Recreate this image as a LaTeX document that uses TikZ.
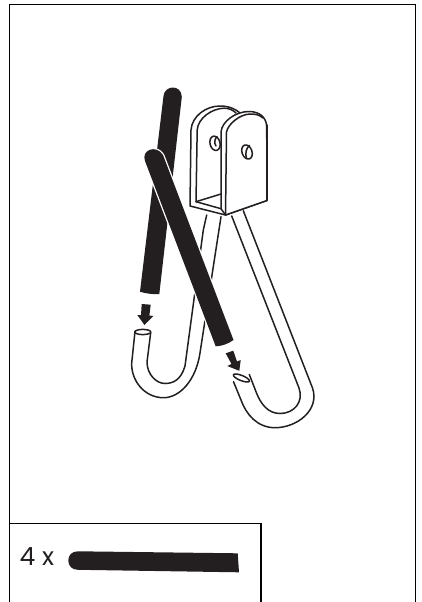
\documentclass[tikz,border=0pt]{standalone}
\usepackage{fontspec}
\setmainfont{Poppins}
\definecolor{ink}{HTML}{231F20}
\tikzset{
  frameline/.style={draw=black,line width=1.5pt},
  wire/.style={draw=ink,line width=1.5pt,line join=round,line cap=round},
  rod/.style={fill=ink,draw=none},
  plate/.style={wire,fill=white}
}
\begin{document}
\begin{tikzpicture}[x=1pt,y=-1pt]
\useasboundingbox (0,0) rectangle (421,602);
% frames
\draw[frameline] (9.5,602) -- (9.5,4.5) -- (415.5,4.5) -- (415.5,602);
\draw[frameline] (9.5,523.5) -- (261,523.5) -- (261,602);
% back rod
\path[rod] (163.5,96) .. controls (164.5,85) and (181.5,84) .. (181.8,97)
  -- (159.3,294) .. controls (152,294.5) and (146,293.5) .. (140,291.7) -- cycle;
% left hook
\draw[wire] (206.7,215) -- (203.3,230) -- (185,366)
  .. controls (181,380) and (173,383.5) .. (165,383.5)
  .. controls (156,383.5) and (147,374) .. (147,362)
  -- (150.7,332.5);
\draw[wire] (221,216.7) -- (200,353)
  .. controls (196,380) and (180,397.7) .. (163.5,397.7)
  .. controls (144,397.7) and (131,380) .. (131.7,363)
  -- (135,331.5);
\draw[wire,fill=white] (142.8,332) ellipse[x radius=8,y radius=2.6];
% right hook
\draw[wire] (231.7,216) -- (299,388)
  .. controls (304,402) and (294,413.5) .. (280,413.5)
  .. controls (268,413.5) and (261,404) .. (256.7,393.5)
  -- (249.3,374.5);
\draw[wire] (243.3,210.7) -- (312.5,388)
  .. controls (320,410) and (297,427.7) .. (275,427.7)
  .. controls (257,427.7) and (246,414) .. (241,400)
  -- (233.5,381.7);
\draw[wire,fill=white,rotate around={-22:(241.4,378)}] (241.4,378) ellipse[x radius=8.6,y radius=2.6];
% bracket
\draw[plate] (190,206) -- (191,130)
  .. controls (192,116) and (206,106) .. (220,106)
  .. controls (228,106) and (234,108) .. (240,113)
  -- (267,125) -- (267,200.5) -- (225.5,215) -- cycle;
\draw[wire] (196,201.7) -- (197.2,130)
  .. controls (198,118) and (212,108.5) .. (224,108.2)
  .. controls (229,108.2) and (233,110) .. (236,113);
\draw[wire] (196,201.7) -- (221,194);
\draw[wire] (196,201.7) -- (221,208.7);
% front plate
\draw[plate] (221,208.7) -- (221,132)
  .. controls (222,121) and (236,111.5) .. (249,111.5)
  .. controls (259,111.5) and (266.5,117) .. (266.7,127)
  -- (267,200.5) -- (225.5,215) -- cycle;
\draw[wire] (225.5,215) -- (226.5,132)
  .. controls (228,124) and (240,114.2) .. (250,114)
  .. controls (255,114) and (259,114.5) .. (263,118);
% holes
\draw[wire,rotate around={14:(215,143.3)}] (215,143.3) ellipse[x radius=5,y radius=7.3];
\draw[wire] (217,136.5) .. controls (214.5,139) and (214,143) .. (216,146);
\draw[wire,rotate around={20:(247,152)}] (247,152) ellipse[x radius=5,y radius=7.3];
\draw[wire] (249.5,145.5) .. controls (246,148) and (245,154) .. (246.5,158);
% front rod: white halo under the black body
\path[draw=white,line width=2.6pt,line join=round] (145,161) .. controls (141,150) and (156,144) .. (163,155)
  -- (233.5,340) .. controls (228,344) and (222,346) .. (215.7,346.3) -- cycle;
\path[rod] (145,161) .. controls (141,150) and (156,144) .. (163,155)
  -- (233.5,340) .. controls (228,344) and (222,346) .. (215.7,346.3) -- cycle;
% arrows
\path[rod] (141.7,304) -- (150.7,304.7) -- (149.4,315.5) -- (153.3,316) -- (144.5,325) -- (137.3,315) -- (141,315.2) -- cycle;
\path[rod] (225.7,353.3) -- (233.3,350.7) -- (237,361.5) -- (240.7,360) -- (239.3,370.8) -- (227.3,366) -- (231.5,364) -- cycle;
% bottom box
\node[anchor=base west,inner sep=0pt,font=\fontsize{25}{25}\selectfont,text=ink] (qty) at (19.5,565.5) {4 x};
\path[rod] (78,551.3) -- (237.7,553.3) -- (239,572.3) -- (78,569.8)
  .. controls (72,569.8) and (68.3,566) .. (68.3,560.5)
  .. controls (68.3,555) and (72,551.3) .. (78,551.3) -- cycle;
\end{tikzpicture}
\end{document}
